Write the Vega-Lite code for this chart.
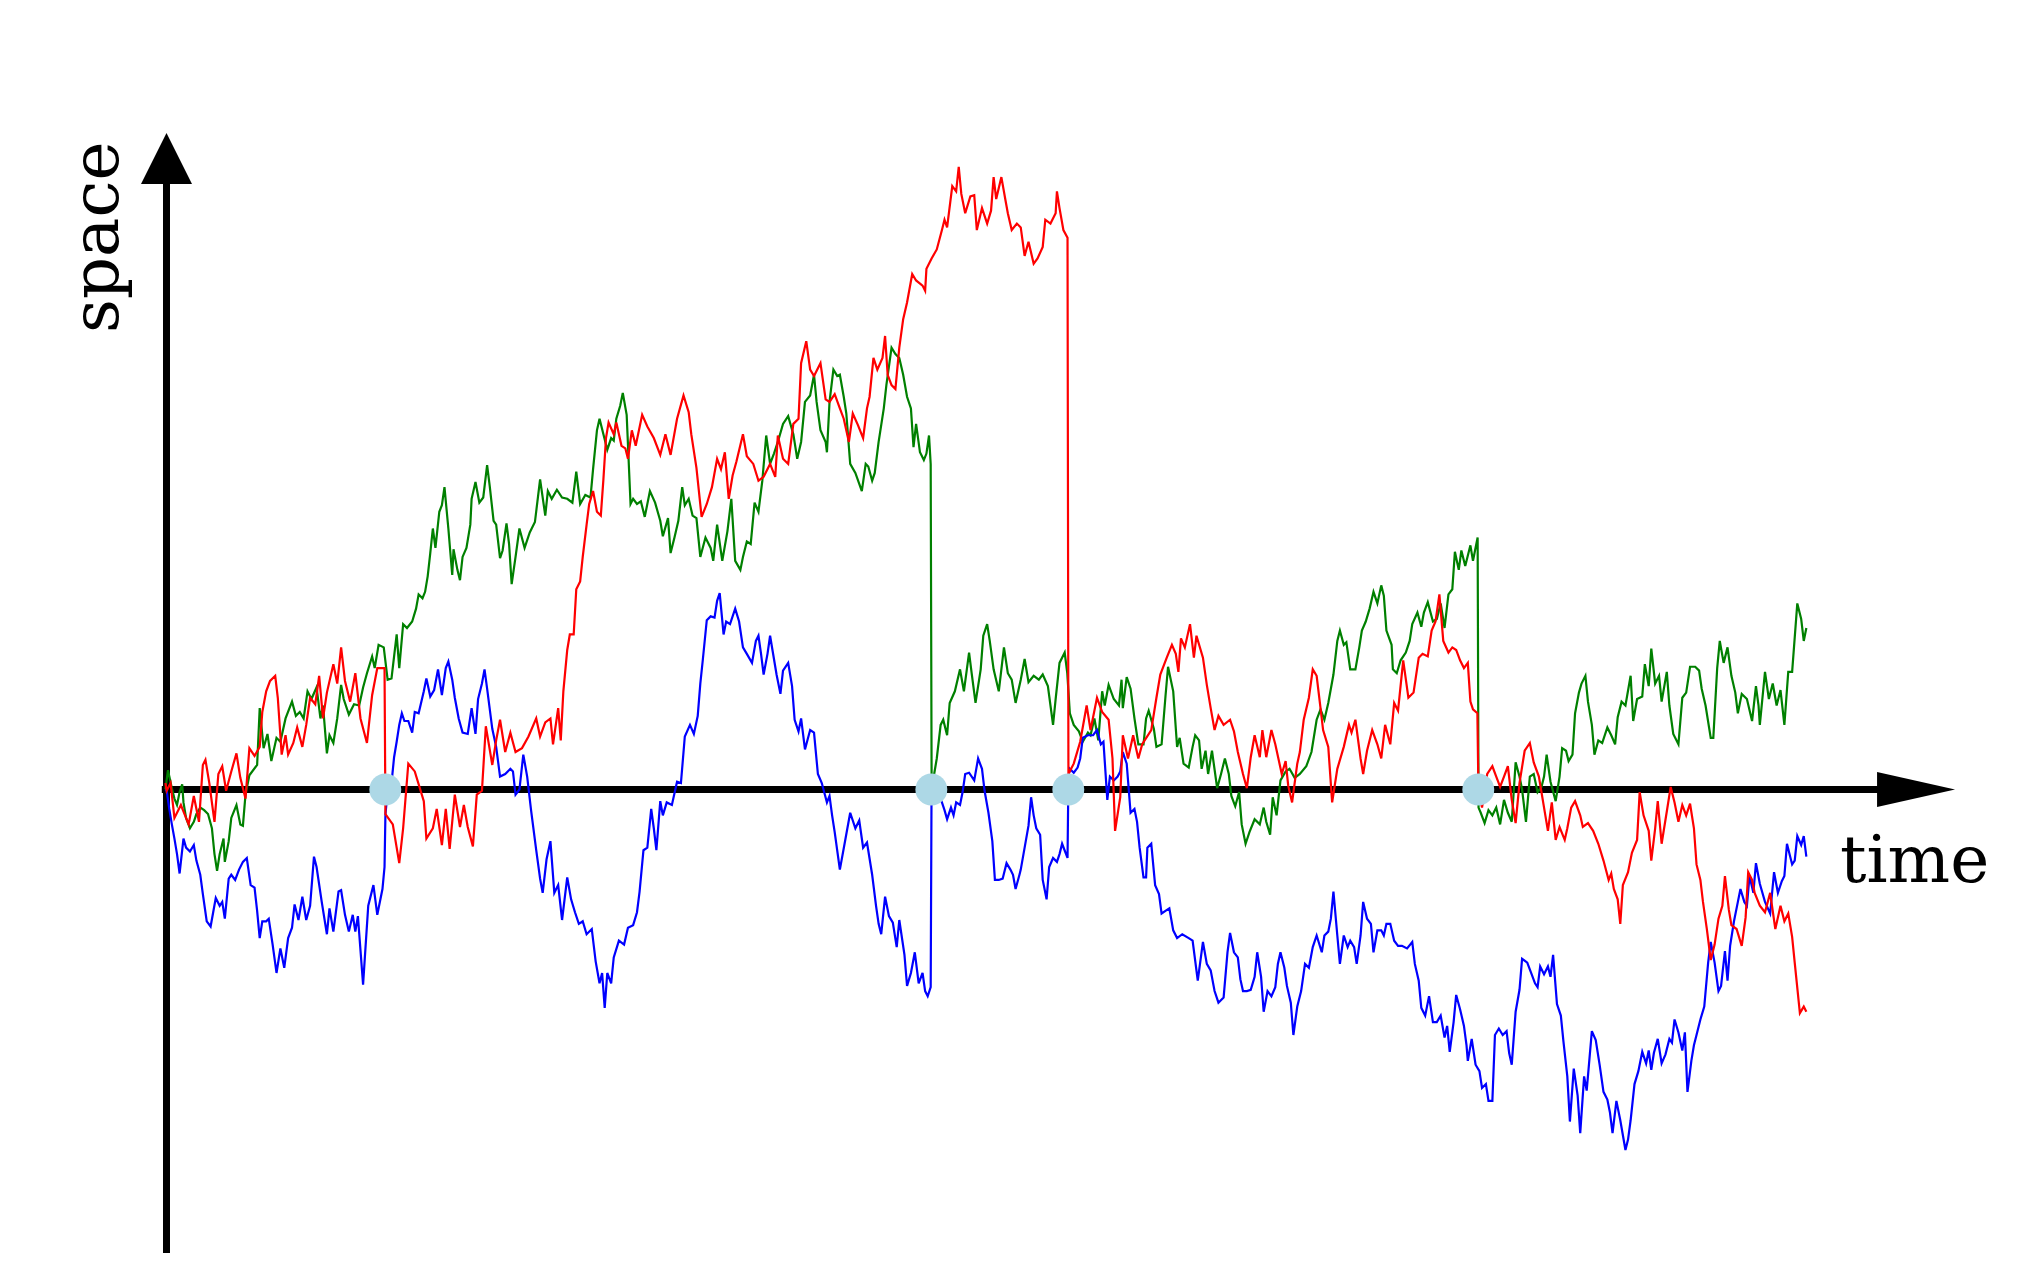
{
"$schema":"https://vega.github.io/schema/vega-lite/v6.json",
"width":2026,"height":1283,"autosize":"none","padding":0,"background":"white",
"config":{"view":{"stroke":null}},
"datasets":{
"red":[{"t":128,"v":5},{"t":129,"v":-1},{"t":132,"v":5},{"t":135,"v":-22},{"t":140,"v":-12},{"t":146,"v":-27},{"t":150,"v":-5},{"t":154,"v":-25},{"t":157,"v":19},{"t":159,"v":23},{"t":162,"v":5},{"t":166,"v":-25},{"t":169,"v":12},{"t":172,"v":18},{"t":175,"v":-1},{"t":179,"v":14},{"t":183,"v":28},{"t":186,"v":9},{"t":190,"v":-7},{"t":193,"v":32},{"t":197,"v":26},{"t":201,"v":33},{"t":203,"v":60},{"t":206,"v":76},{"t":209,"v":84},{"t":213,"v":88},{"t":215,"v":71},{"t":218,"v":27},{"t":221,"v":42},{"t":223,"v":27},{"t":227,"v":36},{"t":230,"v":48},{"t":234,"v":33},{"t":237,"v":50},{"t":240,"v":71},{"t":244,"v":66},{"t":247,"v":88},{"t":250,"v":55},{"t":253,"v":75},{"t":258,"v":97},{"t":261,"v":82},{"t":264,"v":110},{"t":267,"v":84},{"t":271,"v":68},{"t":275,"v":90},{"t":279,"v":55},{"t":284,"v":36},{"t":288,"v":73},{"t":292,"v":94},{"t":296,"v":94},{"t":297.6,"v":94},{"t":298.3,"v":-19},{"t":304,"v":-27},{"t":309,"v":-57},{"t":312,"v":-30},{"t":316,"v":20},{"t":321,"v":14},{"t":328,"v":-9},{"t":330,"v":-38},{"t":335,"v":-30},{"t":338,"v":-15},{"t":342,"v":-43},{"t":345,"v":-15},{"t":348,"v":-46},{"t":352,"v":-4},{"t":356,"v":-29},{"t":359,"v":-12},{"t":362,"v":-29},{"t":366,"v":-44},{"t":369,"v":-4},{"t":373,"v":-1},{"t":376,"v":49},{"t":381,"v":19},{"t":384,"v":38},{"t":387,"v":54},{"t":391,"v":29},{"t":395,"v":44},{"t":399,"v":29},{"t":404,"v":32},{"t":409,"v":41},{"t":415,"v":55},{"t":418,"v":41},{"t":422,"v":52},{"t":426,"v":55},{"t":428,"v":35},{"t":432,"v":63},{"t":434,"v":38},{"t":436,"v":76},{"t":439,"v":108},{"t":441,"v":120},{"t":444,"v":120},{"t":446,"v":155},{"t":449,"v":161},{"t":451,"v":180},{"t":454,"v":205},{"t":456,"v":221},{"t":459,"v":231},{"t":462,"v":215},{"t":465,"v":212},{"t":467,"v":240},{"t":469,"v":272},{"t":471,"v":284},{"t":475,"v":275},{"t":477,"v":284},{"t":481,"v":266},{"t":484,"v":264},{"t":486,"v":256},{"t":489,"v":278},{"t":492,"v":266},{"t":497,"v":290},{"t":501,"v":281},{"t":506,"v":272},{"t":511,"v":259},{"t":515,"v":275},{"t":519,"v":259},{"t":524,"v":287},{"t":529,"v":305},{"t":533,"v":292},{"t":535,"v":275},{"t":539,"v":249},{"t":543,"v":211},{"t":547,"v":221},{"t":551,"v":234},{"t":555,"v":256},{"t":558,"v":248},{"t":561,"v":261},{"t":564,"v":225},{"t":567,"v":243},{"t":570,"v":254},{"t":575,"v":275},{"t":578,"v":258},{"t":583,"v":252},{"t":587,"v":239},{"t":591,"v":242},{"t":596,"v":252},{"t":600,"v":242},{"t":602,"v":274},{"t":606,"v":256},{"t":610,"v":252},{"t":614,"v":283},{"t":618,"v":287},{"t":620,"v":330},{"t":624,"v":347},{"t":627,"v":325},{"t":630,"v":320},{"t":635,"v":330},{"t":639,"v":302},{"t":642,"v":300},{"t":646,"v":306},{"t":650,"v":295},{"t":653,"v":287},{"t":657,"v":269},{"t":660,"v":291},{"t":664,"v":282},{"t":668,"v":272},{"t":671,"v":295},{"t":673,"v":304},{"t":676,"v":334},{"t":679,"v":325},{"t":683,"v":334},{"t":685,"v":351},{"t":687,"v":321},{"t":690,"v":313},{"t":693,"v":310},{"t":696,"v":342},{"t":699,"v":364},{"t":702,"v":377},{"t":706,"v":399},{"t":709,"v":394},{"t":714,"v":390},{"t":716,"v":386},{"t":717,"v":403},{"t":721,"v":411},{"t":725,"v":418},{"t":729,"v":433},{"t":731,"v":441},{"t":733,"v":435},{"t":737,"v":467},{"t":740,"v":463},{"t":742,"v":482},{"t":744,"v":461},{"t":747,"v":446},{"t":751,"v":459},{"t":754,"v":460},{"t":756,"v":433},{"t":760,"v":450},{"t":764,"v":438},{"t":767,"v":448},{"t":769,"v":474},{"t":771,"v":457},{"t":775,"v":474},{"t":778,"v":457},{"t":780,"v":446},{"t":783,"v":433},{"t":787,"v":438},{"t":790,"v":435},{"t":793,"v":413},{"t":796,"v":424},{"t":800,"v":407},{"t":803,"v":411},{"t":807,"v":420},{"t":809,"v":441},{"t":813,"v":438},{"t":817,"v":446},{"t":818,"v":463},{"t":820,"v":450},{"t":823,"v":433},{"t":826.2,"v":427},{"t":826.9,"v":12},{"t":831,"v":20},{"t":836,"v":37},{"t":841,"v":65},{"t":844,"v":46},{"t":849,"v":71},{"t":853,"v":60},{"t":858,"v":54},{"t":861,"v":24},{"t":863,"v":-32},{"t":867,"v":-6},{"t":869,"v":42},{"t":873,"v":24},{"t":877,"v":42},{"t":881,"v":24},{"t":884,"v":35},{"t":891,"v":46},{"t":895,"v":71},{"t":898,"v":89},{"t":903,"v":102},{"t":907,"v":112},{"t":910,"v":105},{"t":912,"v":91},{"t":914,"v":117},{"t":917,"v":110},{"t":921,"v":128},{"t":924,"v":102},{"t":926,"v":119},{"t":931,"v":102},{"t":934,"v":81},{"t":937,"v":63},{"t":940,"v":46},{"t":943,"v":57},{"t":947,"v":50},{"t":952,"v":54},{"t":955,"v":45},{"t":958,"v":29},{"t":962,"v":12},{"t":965,"v":1},{"t":968,"v":25},{"t":971,"v":42},{"t":975,"v":25},{"t":977,"v":46},{"t":980,"v":25},{"t":984,"v":46},{"t":987,"v":35},{"t":992,"v":12},{"t":995,"v":22},{"t":997,"v":3},{"t":1000,"v":-10},{"t":1004,"v":20},{"t":1006,"v":29},{"t":1009,"v":54},{"t":1013,"v":71},{"t":1016,"v":93},{"t":1019,"v":88},{"t":1022,"v":63},{"t":1024,"v":46},{"t":1028,"v":33},{"t":1031,"v":-10},{"t":1035,"v":16},{"t":1040,"v":33},{"t":1044,"v":50},{"t":1046,"v":44},{"t":1049,"v":54},{"t":1053,"v":24},{"t":1055,"v":12},{"t":1058,"v":30},{"t":1062,"v":46},{"t":1066,"v":35},{"t":1069,"v":24},{"t":1072,"v":50},{"t":1076,"v":35},{"t":1079,"v":67},{"t":1082,"v":61},{"t":1086,"v":100},{"t":1090,"v":71},{"t":1094,"v":75},{"t":1098,"v":102},{"t":1101,"v":105},{"t":1105,"v":103},{"t":1108,"v":123},{"t":1111,"v":130},{"t":1114,"v":151},{"t":1117,"v":115},{"t":1121,"v":106},{"t":1124,"v":110},{"t":1127,"v":108},{"t":1130,"v":100},{"t":1133,"v":94},{"t":1136,"v":98},{"t":1138,"v":68},{"t":1140,"v":62},{"t":1143.4,"v":59},{"t":1144.2,"v":0},{"t":1147,"v":-14},{"t":1151,"v":12},{"t":1155,"v":18},{"t":1158,"v":10},{"t":1161,"v":2},{"t":1164,"v":10},{"t":1167,"v":18},{"t":1170,"v":-8},{"t":1173,"v":-26},{"t":1176,"v":5},{"t":1180,"v":30},{"t":1184,"v":36},{"t":1187,"v":21},{"t":1191,"v":10},{"t":1194,"v":-8},{"t":1198,"v":-32},{"t":1201,"v":-10},{"t":1204,"v":-39},{"t":1207,"v":-29},{"t":1211,"v":-39},{"t":1213,"v":-30},{"t":1216,"v":-14},{"t":1219,"v":-9},{"t":1223,"v":-20},{"t":1225,"v":-29},{"t":1229,"v":-26},{"t":1233,"v":-32},{"t":1237,"v":-42},{"t":1241,"v":-55},{"t":1245,"v":-70},{"t":1247,"v":-65},{"t":1249,"v":-77},{"t":1252,"v":-85},{"t":1254,"v":-104},{"t":1256,"v":-74},{"t":1260,"v":-64},{"t":1263,"v":-49},{"t":1267,"v":-39},{"t":1269,"v":-2},{"t":1272,"v":-20},{"t":1276,"v":-32},{"t":1278,"v":-55},{"t":1281,"v":-30},{"t":1283,"v":-9},{"t":1286,"v":-42},{"t":1290,"v":-17},{"t":1293,"v":2},{"t":1296,"v":-10},{"t":1299,"v":-25},{"t":1302,"v":-12},{"t":1305,"v":-20},{"t":1308,"v":-11},{"t":1311,"v":-30},{"t":1313,"v":-58},{"t":1316,"v":-70},{"t":1318,"v":-87},{"t":1321,"v":-108},{"t":1324,"v":-132},{"t":1327,"v":-120},{"t":1330,"v":-100},{"t":1333,"v":-90},{"t":1335,"v":-67},{"t":1338,"v":-93},{"t":1340,"v":-105},{"t":1344,"v":-108},{"t":1348,"v":-121},{"t":1351,"v":-99},{"t":1353,"v":-64},{"t":1356,"v":-70},{"t":1358,"v":-80},{"t":1362,"v":-90},{"t":1366,"v":-95},{"t":1370,"v":-80},{"t":1374,"v":-108},{"t":1378,"v":-90},{"t":1381,"v":-102},{"t":1384,"v":-96},{"t":1387,"v":-114},{"t":1389,"v":-134},{"t":1393,"v":-173},{"t":1396,"v":-168},{"t":1398,"v":-172}],
"green":[{"t":128,"v":0},{"t":130,"v":15},{"t":133,"v":1},{"t":135,"v":-7},{"t":137,"v":-12},{"t":139,"v":-2},{"t":141,"v":4},{"t":142,"v":-10},{"t":144,"v":-22},{"t":147,"v":-30},{"t":150,"v":-25},{"t":152,"v":-19},{"t":155,"v":-14},{"t":158,"v":-16},{"t":161,"v":-19},{"t":164,"v":-30},{"t":166,"v":-50},{"t":168,"v":-63},{"t":170,"v":-50},{"t":173,"v":-38},{"t":174,"v":-56},{"t":177,"v":-40},{"t":179,"v":-22},{"t":183,"v":-12},{"t":186,"v":-27},{"t":188,"v":-28},{"t":190,"v":-4},{"t":193,"v":11},{"t":199,"v":19},{"t":201,"v":63},{"t":204,"v":32},{"t":207,"v":43},{"t":210,"v":22},{"t":214,"v":40},{"t":217,"v":37},{"t":221,"v":55},{"t":226,"v":68},{"t":229,"v":57},{"t":232,"v":60},{"t":235,"v":55},{"t":238,"v":76},{"t":241,"v":70},{"t":245,"v":79},{"t":248,"v":55},{"t":250,"v":65},{"t":253,"v":28},{"t":255,"v":42},{"t":258,"v":36},{"t":261,"v":55},{"t":264,"v":81},{"t":266,"v":70},{"t":270,"v":58},{"t":274,"v":66},{"t":278,"v":65},{"t":281,"v":79},{"t":284,"v":90},{"t":288,"v":103},{"t":290,"v":94},{"t":293,"v":112},{"t":297,"v":110},{"t":300,"v":85},{"t":303,"v":86},{"t":307,"v":120},{"t":309,"v":94},{"t":312,"v":128},{"t":315,"v":125},{"t":319,"v":130},{"t":322,"v":140},{"t":324,"v":151},{"t":327,"v":148},{"t":329,"v":153},{"t":331,"v":165},{"t":333,"v":183},{"t":335,"v":202},{"t":337,"v":187},{"t":340,"v":215},{"t":342,"v":220},{"t":344,"v":234},{"t":347,"v":202},{"t":350,"v":166},{"t":351,"v":186},{"t":354,"v":170},{"t":356,"v":162},{"t":358,"v":180},{"t":361,"v":187},{"t":364,"v":205},{"t":365,"v":225},{"t":368,"v":238},{"t":371,"v":222},{"t":374,"v":226},{"t":377,"v":251},{"t":379,"v":235},{"t":382,"v":208},{"t":384,"v":205},{"t":387,"v":179},{"t":389,"v":185},{"t":392,"v":206},{"t":394,"v":190},{"t":396,"v":159},{"t":399,"v":180},{"t":402,"v":202},{"t":406,"v":187},{"t":410,"v":199},{"t":414,"v":207},{"t":418,"v":240},{"t":422,"v":212},{"t":424,"v":231},{"t":427,"v":225},{"t":431,"v":232},{"t":435,"v":226},{"t":439,"v":225},{"t":443,"v":222},{"t":446,"v":246},{"t":449,"v":221},{"t":453,"v":228},{"t":457,"v":226},{"t":459,"v":248},{"t":462,"v":278},{"t":464,"v":287},{"t":467,"v":275},{"t":470,"v":263},{"t":473,"v":272},{"t":475,"v":270},{"t":477,"v":287},{"t":480,"v":297},{"t":482,"v":307},{"t":485,"v":290},{"t":488,"v":221},{"t":490,"v":225},{"t":493,"v":221},{"t":496,"v":223},{"t":499,"v":211},{"t":503,"v":231},{"t":507,"v":222},{"t":511,"v":208},{"t":513,"v":196},{"t":517,"v":210},{"t":519,"v":183},{"t":522,"v":195},{"t":525,"v":208},{"t":528,"v":234},{"t":530,"v":220},{"t":533,"v":225},{"t":536,"v":212},{"t":539,"v":210},{"t":542,"v":180},{"t":546,"v":195},{"t":550,"v":187},{"t":552,"v":177},{"t":555,"v":205},{"t":559,"v":177},{"t":563,"v":200},{"t":566,"v":225},{"t":569,"v":177},{"t":573,"v":170},{"t":575,"v":180},{"t":578,"v":192},{"t":581,"v":190},{"t":584,"v":222},{"t":587,"v":215},{"t":590,"v":239},{"t":593,"v":274},{"t":596,"v":252},{"t":599,"v":260},{"t":602,"v":269},{"t":606,"v":283},{"t":610,"v":289},{"t":614,"v":275},{"t":617,"v":256},{"t":620,"v":269},{"t":623,"v":300},{"t":627,"v":305},{"t":630,"v":321},{"t":632,"v":300},{"t":635,"v":278},{"t":639,"v":269},{"t":640,"v":261},{"t":642,"v":300},{"t":645,"v":325},{"t":648,"v":320},{"t":650,"v":321},{"t":653,"v":304},{"t":655,"v":291},{"t":658,"v":252},{"t":662,"v":245},{"t":667,"v":231},{"t":670,"v":252},{"t":672,"v":250},{"t":675,"v":239},{"t":677,"v":245},{"t":680,"v":269},{"t":684,"v":295},{"t":686,"v":313},{"t":690,"v":342},{"t":693,"v":337},{"t":696,"v":334},{"t":699,"v":321},{"t":702,"v":304},{"t":705,"v":295},{"t":707,"v":265},{"t":709,"v":283},{"t":712,"v":261},{"t":715,"v":255},{"t":717,"v":260},{"t":719,"v":274},{"t":720.3,"v":252},{"t":721,"v":10},{"t":723,"v":12},{"t":725,"v":24},{"t":728,"v":50},{"t":730,"v":54},{"t":733,"v":42},{"t":735,"v":67},{"t":739,"v":76},{"t":743,"v":93},{"t":746,"v":76},{"t":750,"v":106},{"t":752,"v":90},{"t":755,"v":67},{"t":759,"v":93},{"t":761,"v":119},{"t":764,"v":128},{"t":766,"v":115},{"t":769,"v":93},{"t":773,"v":76},{"t":777,"v":110},{"t":780,"v":90},{"t":783,"v":85},{"t":786,"v":67},{"t":790,"v":85},{"t":793,"v":101},{"t":796,"v":83},{"t":800,"v":88},{"t":804,"v":85},{"t":807,"v":89},{"t":811,"v":80},{"t":815,"v":50},{"t":817,"v":70},{"t":820,"v":98},{"t":824,"v":106},{"t":826,"v":90},{"t":828,"v":59},{"t":831,"v":50},{"t":835,"v":45},{"t":838,"v":37},{"t":842,"v":44},{"t":844,"v":42},{"t":847,"v":55},{"t":850,"v":38},{"t":853,"v":76},{"t":855,"v":65},{"t":858,"v":81},{"t":862,"v":70},{"t":866,"v":65},{"t":868,"v":85},{"t":869,"v":63},{"t":872,"v":87},{"t":875,"v":78},{"t":878,"v":55},{"t":881,"v":35},{"t":885,"v":35},{"t":887,"v":55},{"t":889,"v":61},{"t":893,"v":47},{"t":895,"v":33},{"t":899,"v":35},{"t":902,"v":72},{"t":904,"v":95},{"t":908,"v":76},{"t":911,"v":33},{"t":913,"v":40},{"t":916,"v":20},{"t":920,"v":17},{"t":923,"v":33},{"t":925,"v":42},{"t":928,"v":38},{"t":930,"v":16},{"t":933,"v":30},{"t":935,"v":12},{"t":938,"v":30},{"t":942,"v":1},{"t":945,"v":12},{"t":948,"v":24},{"t":951,"v":12},{"t":953,"v":-5},{"t":956,"v":-13},{"t":959,"v":-2},{"t":961,"v":-27},{"t":964,"v":-42},{"t":967,"v":-33},{"t":971,"v":-23},{"t":975,"v":-27},{"t":978,"v":-14},{"t":980,"v":-25},{"t":983,"v":-35},{"t":985,"v":-6},{"t":988,"v":-20},{"t":991,"v":7},{"t":995,"v":14},{"t":998,"v":16},{"t":1002,"v":9},{"t":1006,"v":12},{"t":1011,"v":18},{"t":1015,"v":29},{"t":1019,"v":54},{"t":1022,"v":62},{"t":1025,"v":54},{"t":1028,"v":67},{"t":1032,"v":89},{"t":1035,"v":115},{"t":1037,"v":123},{"t":1040,"v":112},{"t":1042,"v":114},{"t":1045,"v":93},{"t":1049,"v":93},{"t":1052,"v":110},{"t":1054,"v":123},{"t":1057,"v":130},{"t":1060,"v":140},{"t":1063,"v":153},{"t":1066,"v":144},{"t":1069,"v":158},{"t":1071,"v":150},{"t":1073,"v":123},{"t":1077,"v":112},{"t":1078,"v":93},{"t":1081,"v":90},{"t":1084,"v":100},{"t":1088,"v":106},{"t":1091,"v":115},{"t":1093,"v":128},{"t":1097,"v":137},{"t":1100,"v":126},{"t":1102,"v":137},{"t":1105,"v":145},{"t":1109,"v":130},{"t":1112,"v":132},{"t":1115,"v":144},{"t":1118,"v":125},{"t":1121,"v":151},{"t":1124,"v":155},{"t":1126,"v":184},{"t":1129,"v":170},{"t":1131,"v":185},{"t":1134,"v":173},{"t":1138,"v":189},{"t":1140,"v":177},{"t":1143.6,"v":195},{"t":1144.3,"v":-14},{"t":1146,"v":-18},{"t":1149,"v":-26},{"t":1152,"v":-16},{"t":1155,"v":-20},{"t":1158,"v":-14},{"t":1161,"v":-27},{"t":1164,"v":-8},{"t":1167,"v":-18},{"t":1170,"v":-25},{"t":1173,"v":21},{"t":1176,"v":10},{"t":1178,"v":0},{"t":1181,"v":-25},{"t":1184,"v":10},{"t":1187,"v":12},{"t":1190,"v":-2},{"t":1193,"v":2},{"t":1195,"v":10},{"t":1197,"v":27},{"t":1200,"v":6},{"t":1204,"v":-9},{"t":1207,"v":10},{"t":1209,"v":32},{"t":1212,"v":30},{"t":1214,"v":22},{"t":1217,"v":27},{"t":1219,"v":59},{"t":1222,"v":75},{"t":1224,"v":82},{"t":1227,"v":88},{"t":1229,"v":68},{"t":1232,"v":50},{"t":1234,"v":27},{"t":1237,"v":38},{"t":1240,"v":36},{"t":1244,"v":48},{"t":1247,"v":42},{"t":1250,"v":35},{"t":1252,"v":56},{"t":1255,"v":68},{"t":1258,"v":65},{"t":1262,"v":88},{"t":1264,"v":53},{"t":1267,"v":70},{"t":1271,"v":72},{"t":1273,"v":97},{"t":1276,"v":80},{"t":1278,"v":109},{"t":1281,"v":82},{"t":1284,"v":88},{"t":1286,"v":68},{"t":1290,"v":91},{"t":1292,"v":65},{"t":1295,"v":43},{"t":1299,"v":35},{"t":1302,"v":71},{"t":1305,"v":75},{"t":1308,"v":95},{"t":1312,"v":95},{"t":1315,"v":92},{"t":1317,"v":78},{"t":1320,"v":65},{"t":1324,"v":40},{"t":1326,"v":40},{"t":1329,"v":94},{"t":1331,"v":115},{"t":1334,"v":98},{"t":1337,"v":110},{"t":1340,"v":88},{"t":1343,"v":75},{"t":1345,"v":59},{"t":1348,"v":74},{"t":1352,"v":70},{"t":1356,"v":53},{"t":1359,"v":80},{"t":1361,"v":65},{"t":1362,"v":50},{"t":1366,"v":91},{"t":1369,"v":70},{"t":1372,"v":82},{"t":1375,"v":65},{"t":1378,"v":77},{"t":1381,"v":50},{"t":1384,"v":91},{"t":1387,"v":91},{"t":1391,"v":144},{"t":1394,"v":132},{"t":1396,"v":115},{"t":1398,"v":125}],
"blue":[{"t":128,"v":0},{"t":129,"v":-1},{"t":131,"v":-15},{"t":133,"v":-27},{"t":135,"v":-38},{"t":137,"v":-50},{"t":139,"v":-65},{"t":142,"v":-38},{"t":144,"v":-45},{"t":147,"v":-48},{"t":150,"v":-43},{"t":152,"v":-55},{"t":155,"v":-66},{"t":157,"v":-81},{"t":160,"v":-102},{"t":163,"v":-106},{"t":165,"v":-95},{"t":167,"v":-84},{"t":170,"v":-90},{"t":172,"v":-87},{"t":174,"v":-100},{"t":177,"v":-69},{"t":179,"v":-66},{"t":182,"v":-70},{"t":185,"v":-62},{"t":188,"v":-56},{"t":191,"v":-53},{"t":194,"v":-74},{"t":197,"v":-76},{"t":199,"v":-94},{"t":201,"v":-115},{"t":203,"v":-102},{"t":206,"v":-102},{"t":208,"v":-100},{"t":211,"v":-120},{"t":214,"v":-142},{"t":217,"v":-123},{"t":220,"v":-138},{"t":223,"v":-115},{"t":226,"v":-107},{"t":228,"v":-89},{"t":231,"v":-101},{"t":234,"v":-83},{"t":237,"v":-101},{"t":240,"v":-90},{"t":243,"v":-52},{"t":245,"v":-60},{"t":249,"v":-87},{"t":253,"v":-112},{"t":255,"v":-92},{"t":258,"v":-110},{"t":262,"v":-79},{"t":264,"v":-78},{"t":267,"v":-97},{"t":270,"v":-110},{"t":273,"v":-97},{"t":275,"v":-110},{"t":277,"v":-98},{"t":281,"v":-151},{"t":285,"v":-90},{"t":289,"v":-74},{"t":292,"v":-97},{"t":296,"v":-77},{"t":297.6,"v":-60},{"t":298.3,"v":-19},{"t":300,"v":-2},{"t":302,"v":-5},{"t":305,"v":25},{"t":307,"v":37},{"t":309,"v":50},{"t":311,"v":59},{"t":313,"v":53},{"t":316,"v":53},{"t":319,"v":44},{"t":321,"v":60},{"t":324,"v":59},{"t":328,"v":76},{"t":330,"v":86},{"t":333,"v":72},{"t":336,"v":77},{"t":339,"v":93},{"t":342,"v":73},{"t":345,"v":94},{"t":347,"v":99},{"t":350,"v":85},{"t":352,"v":71},{"t":355,"v":55},{"t":358,"v":44},{"t":362,"v":43},{"t":365,"v":63},{"t":368,"v":43},{"t":370,"v":70},{"t":373,"v":82},{"t":375,"v":93},{"t":377,"v":78},{"t":381,"v":47},{"t":384,"v":33},{"t":387,"v":10},{"t":391,"v":12},{"t":395,"v":16},{"t":397,"v":14},{"t":399,"v":-4},{"t":402,"v":0},{"t":405,"v":27},{"t":408,"v":10},{"t":411,"v":-16},{"t":415,"v":-47},{"t":418,"v":-69},{"t":420,"v":-80},{"t":423,"v":-54},{"t":426,"v":-40},{"t":429,"v":-80},{"t":432,"v":-74},{"t":435,"v":-101},{"t":439,"v":-68},{"t":442,"v":-85},{"t":445,"v":-95},{"t":448,"v":-104},{"t":451,"v":-102},{"t":454,"v":-112},{"t":458,"v":-108},{"t":461,"v":-133},{"t":464,"v":-150},{"t":466,"v":-142},{"t":468,"v":-169},{"t":470,"v":-142},{"t":473,"v":-150},{"t":475,"v":-130},{"t":479,"v":-117},{"t":483,"v":-120},{"t":486,"v":-107},{"t":490,"v":-105},{"t":493,"v":-95},{"t":495,"v":-79},{"t":498,"v":-47},{"t":501,"v":-45},{"t":504,"v":-15},{"t":506,"v":-30},{"t":508,"v":-47},{"t":511,"v":-9},{"t":513,"v":-20},{"t":516,"v":-10},{"t":520,"v":-12},{"t":524,"v":6},{"t":527,"v":5},{"t":530,"v":41},{"t":534,"v":50},{"t":537,"v":43},{"t":540,"v":57},{"t":542,"v":82},{"t":544,"v":101},{"t":547,"v":131},{"t":550,"v":134},{"t":553,"v":133},{"t":555,"v":146},{"t":557,"v":152},{"t":560,"v":120},{"t":562,"v":130},{"t":565,"v":128},{"t":569,"v":140},{"t":572,"v":130},{"t":575,"v":110},{"t":578,"v":105},{"t":582,"v":98},{"t":585,"v":115},{"t":587,"v":119},{"t":589,"v":105},{"t":591,"v":89},{"t":594,"v":105},{"t":596,"v":119},{"t":598,"v":107},{"t":601,"v":89},{"t":604,"v":74},{"t":606,"v":92},{"t":610,"v":98},{"t":613,"v":80},{"t":615,"v":54},{"t":618,"v":45},{"t":620,"v":55},{"t":623,"v":31},{"t":627,"v":46},{"t":630,"v":44},{"t":633,"v":12},{"t":636,"v":5},{"t":640,"v":-10},{"t":642,"v":-5},{"t":644,"v":-20},{"t":646,"v":-33},{"t":650,"v":-62},{"t":654,"v":-40},{"t":658,"v":-18},{"t":662,"v":-30},{"t":665,"v":-24},{"t":668,"v":-45},{"t":671,"v":-41},{"t":675,"v":-66},{"t":678,"v":-90},{"t":680,"v":-104},{"t":682,"v":-112},{"t":685,"v":-83},{"t":688,"v":-98},{"t":691,"v":-103},{"t":694,"v":-122},{"t":696,"v":-101},{"t":700,"v":-128},{"t":702,"v":-152},{"t":705,"v":-142},{"t":708,"v":-126},{"t":711,"v":-150},{"t":714,"v":-142},{"t":716,"v":-156},{"t":718,"v":-160},{"t":720.3,"v":-153},{"t":721,"v":10},{"t":723,"v":3},{"t":726,"v":-2},{"t":729,"v":-10},{"t":731,"v":-16},{"t":733,"v":-23},{"t":736,"v":-14},{"t":738,"v":-20},{"t":740,"v":-10},{"t":743,"v":-12},{"t":745,"v":-2},{"t":747,"v":12},{"t":750,"v":13},{"t":754,"v":7},{"t":757,"v":24},{"t":760,"v":16},{"t":762,"v":-1},{"t":765,"v":-18},{"t":768,"v":-40},{"t":770,"v":-70},{"t":773,"v":-70},{"t":776,"v":-69},{"t":779,"v":-57},{"t":782,"v":-62},{"t":784,"v":-66},{"t":786,"v":-77},{"t":789,"v":-66},{"t":790,"v":-62},{"t":793,"v":-45},{"t":796,"v":-28},{"t":798,"v":-6},{"t":800,"v":-20},{"t":802,"v":-30},{"t":805,"v":-35},{"t":807,"v":-70},{"t":810,"v":-85},{"t":812,"v":-60},{"t":815,"v":-53},{"t":818,"v":-56},{"t":820,"v":-50},{"t":822,"v":-42},{"t":826.2,"v":-53},{"t":826.9,"v":10},{"t":828,"v":16},{"t":831,"v":13},{"t":834,"v":17},{"t":836,"v":24},{"t":838,"v":40},{"t":842,"v":42},{"t":846,"v":42},{"t":849,"v":46},{"t":852,"v":35},{"t":854,"v":37},{"t":857,"v":-8},{"t":859,"v":10},{"t":862,"v":7},{"t":865,"v":10},{"t":867,"v":14},{"t":869,"v":29},{"t":872,"v":20},{"t":875,"v":-18},{"t":878,"v":-15},{"t":880,"v":-25},{"t":882,"v":-45},{"t":885,"v":-68},{"t":887,"v":-68},{"t":888,"v":-45},{"t":891,"v":-42},{"t":894,"v":-74},{"t":897,"v":-81},{"t":899,"v":-96},{"t":902,"v":-94},{"t":905,"v":-92},{"t":908,"v":-109},{"t":911,"v":-115},{"t":915,"v":-112},{"t":920,"v":-115},{"t":923,"v":-117},{"t":927,"v":-148},{"t":931,"v":-118},{"t":934,"v":-135},{"t":937,"v":-140},{"t":940,"v":-156},{"t":943,"v":-165},{"t":947,"v":-161},{"t":950,"v":-126},{"t":952,"v":-111},{"t":955,"v":-126},{"t":958,"v":-130},{"t":960,"v":-147},{"t":962,"v":-156},{"t":965,"v":-156},{"t":968,"v":-155},{"t":971,"v":-145},{"t":973,"v":-126},{"t":976,"v":-145},{"t":978,"v":-172},{"t":981,"v":-156},{"t":984,"v":-160},{"t":987,"v":-153},{"t":989,"v":-135},{"t":991,"v":-126},{"t":994,"v":-138},{"t":996,"v":-152},{"t":999,"v":-165},{"t":1001,"v":-190},{"t":1004,"v":-168},{"t":1007,"v":-156},{"t":1010,"v":-135},{"t":1013,"v":-138},{"t":1016,"v":-122},{"t":1019,"v":-113},{"t":1023,"v":-126},{"t":1025,"v":-113},{"t":1028,"v":-110},{"t":1030,"v":-100},{"t":1032,"v":-79},{"t":1035,"v":-113},{"t":1037,"v":-135},{"t":1040,"v":-113},{"t":1043,"v":-122},{"t":1045,"v":-117},{"t":1048,"v":-122},{"t":1050,"v":-135},{"t":1053,"v":-113},{"t":1055,"v":-87},{"t":1058,"v":-100},{"t":1061,"v":-104},{"t":1063,"v":-126},{"t":1066,"v":-109},{"t":1069,"v":-109},{"t":1071,"v":-113},{"t":1073,"v":-104},{"t":1076,"v":-104},{"t":1079,"v":-117},{"t":1082,"v":-121},{"t":1085,"v":-121},{"t":1089,"v":-123},{"t":1093,"v":-118},{"t":1095,"v":-135},{"t":1098,"v":-148},{"t":1100,"v":-169},{"t":1103,"v":-175},{"t":1106,"v":-160},{"t":1109,"v":-180},{"t":1112,"v":-180},{"t":1115,"v":-175},{"t":1118,"v":-192},{"t":1120,"v":-183},{"t":1122,"v":-203},{"t":1125,"v":-180},{"t":1127,"v":-159},{"t":1130,"v":-170},{"t":1133,"v":-183},{"t":1135,"v":-198},{"t":1136,"v":-210},{"t":1139,"v":-193},{"t":1142,"v":-213},{"t":1145,"v":-218},{"t":1147,"v":-231},{"t":1150,"v":-228},{"t":1152,"v":-241},{"t":1155,"v":-241},{"t":1157,"v":-190},{"t":1160,"v":-185},{"t":1163,"v":-190},{"t":1166,"v":-187},{"t":1168,"v":-204},{"t":1170,"v":-213},{"t":1173,"v":-172},{"t":1176,"v":-155},{"t":1178,"v":-131},{"t":1182,"v":-134},{"t":1185,"v":-142},{"t":1188,"v":-150},{"t":1190,"v":-153},{"t":1192,"v":-137},{"t":1195,"v":-143},{"t":1198,"v":-137},{"t":1200,"v":-145},{"t":1202,"v":-128},{"t":1205,"v":-166},{"t":1208,"v":-175},{"t":1210,"v":-195},{"t":1213,"v":-222},{"t":1215,"v":-257},{"t":1218,"v":-216},{"t":1221,"v":-237},{"t":1223,"v":-266},{"t":1226,"v":-222},{"t":1228,"v":-233},{"t":1232,"v":-187},{"t":1235,"v":-194},{"t":1238,"v":-213},{"t":1241,"v":-234},{"t":1244,"v":-240},{"t":1246,"v":-250},{"t":1248,"v":-266},{"t":1251,"v":-241},{"t":1254,"v":-256},{"t":1258,"v":-279},{"t":1260,"v":-271},{"t":1262,"v":-256},{"t":1265,"v":-228},{"t":1268,"v":-218},{"t":1271,"v":-203},{"t":1274,"v":-212},{"t":1276,"v":-202},{"t":1278,"v":-217},{"t":1280,"v":-204},{"t":1283,"v":-193},{"t":1286,"v":-212},{"t":1289,"v":-205},{"t":1292,"v":-193},{"t":1294,"v":-196},{"t":1296,"v":-178},{"t":1299,"v":-188},{"t":1302,"v":-202},{"t":1304,"v":-188},{"t":1306,"v":-234},{"t":1309,"v":-210},{"t":1311,"v":-198},{"t":1313,"v":-190},{"t":1316,"v":-178},{"t":1319,"v":-168},{"t":1322,"v":-134},{"t":1324,"v":-118},{"t":1327,"v":-134},{"t":1330,"v":-156},{"t":1332,"v":-152},{"t":1335,"v":-125},{"t":1337,"v":-148},{"t":1339,"v":-121},{"t":1342,"v":-102},{"t":1345,"v":-87},{"t":1347,"v":-77},{"t":1350,"v":-87},{"t":1352,"v":-90},{"t":1354,"v":-67},{"t":1357,"v":-80},{"t":1359,"v":-57},{"t":1362,"v":-73},{"t":1366,"v":-87},{"t":1370,"v":-96},{"t":1373,"v":-64},{"t":1376,"v":-80},{"t":1379,"v":-71},{"t":1381,"v":-67},{"t":1383,"v":-42},{"t":1387,"v":-58},{"t":1389,"v":-55},{"t":1391,"v":-36},{"t":1394,"v":-43},{"t":1396,"v":-36},{"t":1398,"v":-52}],
"hits":[{"t":298.2,"v":0},{"t":720.8,"v":0},{"t":826.8,"v":0},{"t":1144.1,"v":0}]
},
"layer":[
{"data":{"values":[{}]},"mark":{"type":"rule","color":"black","strokeWidth":7,"strokeCap":"butt"},
 "encoding":{"x":{"datum":128.86,"type":"quantitative","scale":{"domain":[0,1568],"nice":false,"zero":false},"axis":null},
 "y":{"datum":475,"type":"quantitative","scale":{"domain":[-381.96,611.06],"nice":false,"zero":false},"axis":null},"y2":{"datum":-358.7}}},
{"data":{"values":[{}]},"mark":{"type":"rule","color":"black","strokeWidth":7,"strokeCap":"butt"},
 "encoding":{"x":{"datum":125.2,"type":"quantitative"},"x2":{"datum":1460},"y":{"datum":0,"type":"quantitative"}}},
{"data":{"values":[{}]},"mark":{"type":"point","shape":"M0,-1L1,1L-1,1Z","filled":true,"color":"black","opacity":1,"size":2601,"strokeWidth":0},
 "encoding":{"x":{"datum":128.86,"type":"quantitative"},"y":{"datum":488.4,"type":"quantitative"}}},
{"data":{"values":[{}]},"mark":{"type":"point","shape":"M1,0L-1,-0.449L-1,0.449Z","filled":true,"color":"black","opacity":1,"size":6084,"strokeWidth":0},
 "encoding":{"x":{"datum":1482.9,"type":"quantitative"},"y":{"datum":0,"type":"quantitative"}}},
{"data":{"name":"green"},"mark":{"type":"line","color":"#008000","strokeWidth":2.2},"encoding":{"x":{"field":"t","type":"quantitative"},"y":{"field":"v","type":"quantitative"}}},
{"data":{"name":"blue"},"mark":{"type":"line","color":"#0000ff","strokeWidth":2.2},"encoding":{"x":{"field":"t","type":"quantitative"},"y":{"field":"v","type":"quantitative"}}},
{"data":{"name":"red"},"mark":{"type":"line","color":"#ff0000","strokeWidth":2.2},"encoding":{"x":{"field":"t","type":"quantitative"},"y":{"field":"v","type":"quantitative"}}},
{"data":{"name":"hits"},"mark":{"type":"circle","color":"#add8e6","opacity":1,"size":1018},"encoding":{"x":{"field":"t","type":"quantitative"},"y":{"field":"v","type":"quantitative"}}},
{"data":{"values":[{}]},"mark":{"type":"text","text":"time","font":"DejaVu Serif","fontSize":66,"align":"left","baseline":"alphabetic","color":"black"},
 "encoding":{"x":{"datum":1424.0,"type":"quantitative"},"y":{"datum":-71.6,"type":"quantitative"}}},
{"data":{"values":[{}]},"mark":{"type":"text","text":"space","font":"DejaVu Serif","fontSize":66,"align":"left","baseline":"alphabetic","angle":270,"color":"black"},
 "encoding":{"x":{"datum":91.3,"type":"quantitative"},"y":{"datum":353.3,"type":"quantitative"}}}
]
}
